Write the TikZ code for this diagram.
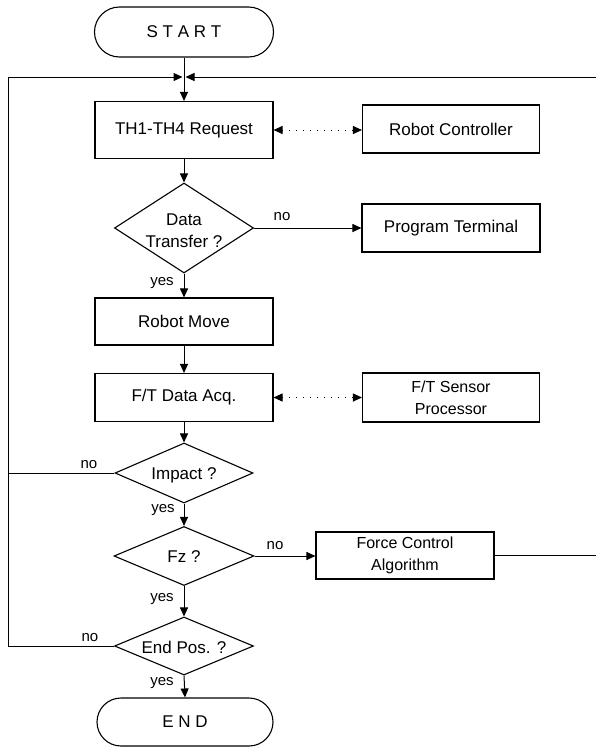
\documentclass[tikz,border=0pt]{standalone}
\usepackage{fontspec}
\setmainfont{Liberation Sans}
\usetikzlibrary{arrows.meta,shapes.geometric}
\begin{document}
\begin{tikzpicture}[x=1pt,y=-1pt,
  every node/.style={inner sep=0pt},
  boxtext/.style={font=\fontsize{17}{22}\selectfont, align=center},
  procbox/.style={draw, line width=1.1pt, minimum width=178pt, minimum height=48pt, boxtext},
  termbox/.style={draw, line width=1.1pt, rounded corners=24pt, minimum width=178pt, minimum height=49pt, boxtext},
  decbox/.style={draw, line width=1.1pt, diamond, inner sep=0pt},
  lbl/.style={font=\fontsize{15}{18}\selectfont},
  flow/.style={line width=1pt, -{Triangle[length=9pt,width=8pt]}},
  plain/.style={line width=1pt},
  dotarrow/.style={line width=1pt, dash pattern=on 1pt off 6pt, {Triangle[length=9pt,width=8pt]}-{Triangle[length=9pt,width=8pt]}}
]
\useasboundingbox (0,0) rectangle (596,747);

% terminals and process boxes
\node[termbox, minimum width=179pt, minimum height=50pt, rounded corners=25pt] (start) at (184,32) {S T A R T};
\node[procbox, minimum height=57pt] (th) at (184,130) {TH1-TH4 Request};
\node[procbox, minimum width=177pt] (rc) at (451,129) {Robot Controller};
\node[procbox] (pt) at (451,228) {Program Terminal};
\node[procbox, minimum height=47pt] (rm) at (184,321.5) {Robot Move};
\node[procbox] (ft) at (184,397.5) {F/T Data Acq.};
\node[procbox, minimum width=177pt, minimum height=49pt, font=\fontsize{16}{22}\selectfont] (fts) at (451,397.5) {F/T Sensor\\Processor};
\node[procbox, minimum height=47pt, font=\fontsize{16}{22}\selectfont] (fc) at (405,555.5) {Force Control\\Algorithm};
\node[termbox, minimum width=176pt, minimum height=48pt] (end) at (185,722) {E N D};

% decisions
\node[decbox, minimum width=139pt, minimum height=90pt] (dt) at (184,228) {};
\node[boxtext] (dtt) at (184,231) {Data\\Transfer ?};
\node[decbox, minimum width=138pt, minimum height=60pt] (imp) at (184,473) {};
\node[boxtext] (impt) at (184,475) {Impact ?};
\node[decbox, minimum width=140pt, minimum height=59pt] (fz) at (184,556) {};
\node[boxtext] (fzt) at (184,557) {Fz ?};
\node[decbox, minimum width=139pt, minimum height=58pt] (ep) at (184,646) {};
\node[boxtext] (ept) at (184,647) {End Pos. ?};

% junction coordinates
\coordinate (tl) at (8,77);
\coordinate (jn) at (184,77);
\coordinate (tr) at (596,77);

% main flow
\draw[flow] (start.south) -- (th.north);
\draw[flow] (th.south) -- (dt.north);
\draw[flow] (dt.south) -- (rm.north);
\draw[flow] (rm.south) -- (ft.north);
\draw[flow] (ft.south) -- (imp.north);
\draw[flow] (imp.south) -- (fz.north);
\draw[flow] (fz.south) -- (ep.north);
\draw[flow] (ep.south) -- (end.north);

% side branches
\draw[flow] (dt.east) -- (pt.west);
\draw[flow] (fz.east) -- (fz.east -| fc.west);
\draw[dotarrow] (th.east) -- (th.east -| rc.west);
\draw[dotarrow] (ft.east) -- (ft.east -| fts.west);

% loops back to top
\draw[plain] (ep.west) -| (tl);
\draw[plain] (imp.west) -- (imp.west -| tl);
\draw[flow, shorten >=1.5pt] (tl) -- (jn);
\draw[plain] (fc.east) -- (fc.east -| tr) -- (tr);
\draw[flow, shorten >=1.5pt] (tr) -- (jn);

% labels
\node[lbl] (l1) at (282,217) {no};
\node[lbl] (l2) at (162,283) {yes};
\node[lbl] (l3) at (89,465) {no};
\node[lbl] (l4) at (163,510) {yes};
\node[lbl] (l5) at (275,546) {no};
\node[lbl] (l6) at (162,599) {yes};
\node[lbl] (l7) at (90,638) {no};
\node[lbl] (l8) at (162,683) {yes};
\end{tikzpicture}
\end{document}
